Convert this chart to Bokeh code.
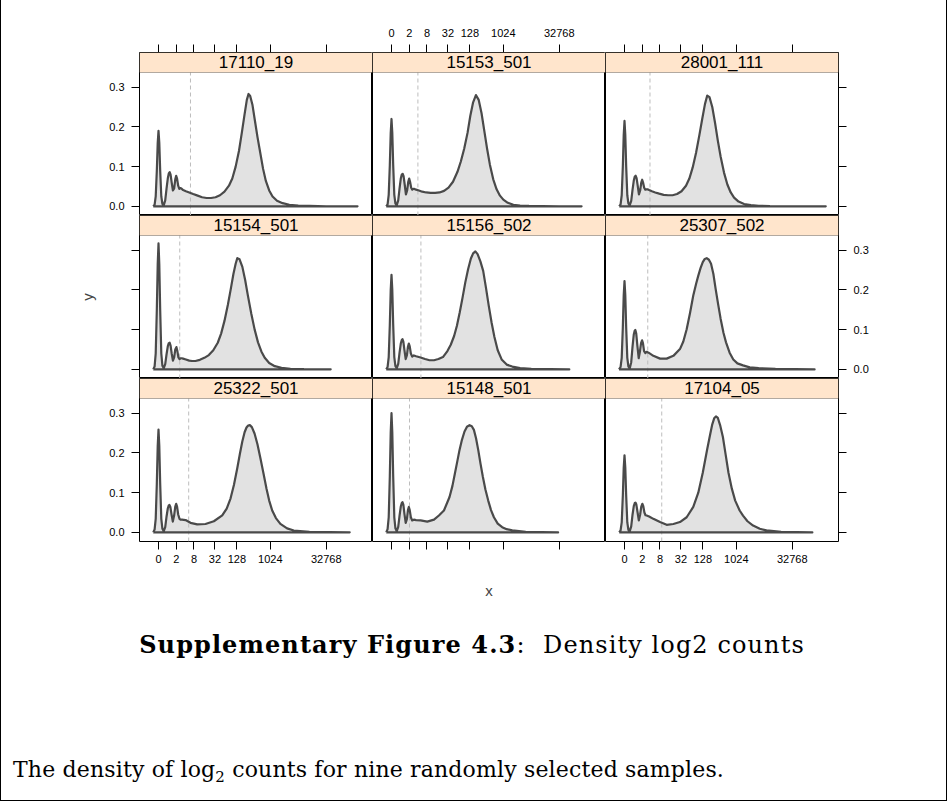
import numpy as np
from bokeh.plotting import figure
from bokeh.models import Range1d, FixedTicker, LinearAxis, BoxAnnotation, Label, Div, InlineStyleSheet
from bokeh.layouts import row, column
from bokeh.embed import file_html
from bokeh.resources import INLINE

# ---------------- data (x = log2(count + 1), y = density) ----------------
SAMPLES = ["17110_19", "15153_501", "28001_111",
           "15154_501", "15156_502", "25307_502",
           "25322_501", "15148_501", "17104_05"]

X_TICK_COUNTS = [0, 2, 8, 32, 128, 1024, 32768]
Y_TICKS = [0.0, 0.1, 0.2, 0.3]

# dashed threshold line per sample (log2 units)
THRESHOLDS = [2.86, 2.36, 2.28, 1.9, 2.63, 2.08, 2.7, 1.61, 3.33]

X_17110_19 = [-0.47, -0.35, -0.25, -0.15, -0.07, 0, 0.07, 0.15, 0.25, 0.35, 0.47, 0.6, 0.72, 0.83, 0.92, 1.0, 1.08,
              1.18, 1.29, 1.4, 1.5, 1.58, 1.66, 1.76, 1.86, 1.96, 2.05, 2.2, 2.45, 2.75, 3.1, 3.5, 3.9, 4.3, 4.7,
              5.1, 5.5, 5.9, 6.3, 6.6, 6.9, 7.2, 7.45, 7.7, 7.9, 8.05, 8.2, 8.4, 8.6, 8.85, 9.1, 9.35, 9.6, 9.9,
              10.2, 10.6, 11.1, 11.7, 12.5, 13.5, 15.0, 17.8]
Y_17110_19 = [0, 0.004, 0.025, 0.09, 0.16, 0.19, 0.16, 0.09, 0.025, 0.006, 0.003, 0.015, 0.045, 0.07, 0.083, 0.086,
              0.08, 0.06, 0.04, 0.045, 0.068, 0.077, 0.07, 0.052, 0.044, 0.046, 0.045, 0.041, 0.038, 0.035, 0.031,
              0.027, 0.023, 0.021, 0.021, 0.023, 0.028, 0.037, 0.052, 0.07, 0.1, 0.14, 0.185, 0.232, 0.268, 0.283,
              0.278, 0.256, 0.22, 0.175, 0.135, 0.095, 0.064, 0.04, 0.025, 0.014, 0.008, 0.004, 0.002, 0.001,
              0.0003, 0]

X_15153_501 = [-0.47, -0.35, -0.25, -0.15, -0.07, 0, 0.07, 0.15, 0.25, 0.35, 0.47, 0.6, 0.72, 0.83, 0.92, 1.0, 1.08,
               1.18, 1.29, 1.4, 1.5, 1.58, 1.66, 1.76, 1.86, 1.96, 2.05, 2.2, 2.45, 2.75, 3.1, 3.5, 3.9, 4.3, 4.7,
               5.1, 5.5, 5.9, 6.2, 6.5, 6.8, 7.05, 7.3, 7.55, 7.8, 8.05, 8.3, 8.55, 8.8, 9.1, 9.4, 9.7, 10.0, 10.4,
               10.9, 11.5, 12.3, 13.5, 15.0, 17.0]
Y_15153_501 = [0, 0.005, 0.029, 0.104, 0.185, 0.22, 0.185, 0.104, 0.029, 0.007, 0.003, 0.015, 0.045, 0.07, 0.08,
               0.082, 0.076, 0.055, 0.03, 0.04, 0.062, 0.07, 0.062, 0.047, 0.042, 0.044, 0.044, 0.042, 0.04, 0.037,
               0.035, 0.034, 0.034, 0.035, 0.039, 0.047, 0.062, 0.087, 0.113, 0.145, 0.185, 0.228, 0.262, 0.28,
               0.268, 0.235, 0.19, 0.145, 0.105, 0.068, 0.043, 0.027, 0.017, 0.009, 0.004, 0.002, 0.001, 0.0004,
               0.0001, 0]

X_28001_111 = [-0.47, -0.35, -0.25, -0.15, -0.07, 0, 0.07, 0.15, 0.25, 0.35, 0.47, 0.6, 0.72, 0.83, 0.92, 1.0, 1.08,
               1.18, 1.29, 1.4, 1.5, 1.58, 1.66, 1.76, 1.86, 1.96, 2.05, 2.2, 2.45, 2.75, 3.1, 3.5, 3.9, 4.3, 4.7,
               5.1, 5.5, 5.8, 6.1, 6.4, 6.7, 6.95, 7.2, 7.4, 7.6, 7.85, 8.1, 8.35, 8.6, 8.9, 9.2, 9.5, 9.8, 10.2,
               10.7, 11.3, 12.0, 13.0, 14.5, 18.0]
Y_28001_111 = [0, 0.005, 0.028, 0.1, 0.18, 0.215, 0.18, 0.1, 0.028, 0.007, 0.003, 0.014, 0.042, 0.065, 0.075, 0.077,
               0.071, 0.052, 0.03, 0.04, 0.06, 0.067, 0.06, 0.047, 0.042, 0.043, 0.043, 0.041, 0.038, 0.035, 0.032,
               0.029, 0.028, 0.028, 0.031, 0.038, 0.052, 0.07, 0.098, 0.135, 0.18, 0.22, 0.258, 0.279, 0.275, 0.25,
               0.21, 0.165, 0.125, 0.085, 0.055, 0.035, 0.022, 0.012, 0.006, 0.003, 0.0015, 0.0005, 0.0002, 0]

X_15154_501 = [-0.47, -0.35, -0.25, -0.15, -0.07, 0, 0.07, 0.15, 0.25, 0.35, 0.47, 0.6, 0.72, 0.83, 0.92, 1.0, 1.08,
               1.18, 1.29, 1.4, 1.5, 1.6, 1.68, 1.78, 1.88, 1.98, 2.07, 2.2, 2.45, 2.75, 3.0, 3.3, 3.7, 4.1, 4.5,
               4.9, 5.3, 5.6, 5.9, 6.2, 6.45, 6.7, 6.9, 7.05, 7.25, 7.5, 7.75, 8.0, 8.3, 8.6, 8.9, 9.2, 9.5, 9.9,
               10.4, 11.0, 11.8, 13.0, 15.4]
Y_15154_501 = [0, 0.007, 0.04, 0.15, 0.265, 0.317, 0.265, 0.15, 0.04, 0.009, 0.003, 0.013, 0.038, 0.058, 0.066,
               0.067, 0.06, 0.04, 0.022, 0.03, 0.05, 0.056, 0.047, 0.03, 0.026, 0.028, 0.028, 0.027, 0.025, 0.022,
               0.021, 0.021, 0.024, 0.029, 0.036, 0.048, 0.067, 0.09, 0.122, 0.162, 0.2, 0.24, 0.266, 0.28, 0.277,
               0.258, 0.225, 0.185, 0.14, 0.1, 0.068, 0.045, 0.029, 0.016, 0.008, 0.004, 0.0015, 0.0005, 0]

X_15156_502 = [-0.47, -0.35, -0.25, -0.15, -0.07, 0, 0.07, 0.15, 0.25, 0.35, 0.47, 0.6, 0.72, 0.83, 0.92, 0.98, 1.06,
               1.16, 1.27, 1.38, 1.47, 1.55, 1.63, 1.73, 1.85, 2.0, 2.2, 2.6, 3.0, 3.4, 3.8, 4.2, 4.6, 5.0, 5.3,
               5.6, 5.85, 6.1, 6.35, 6.6, 6.85, 7.1, 7.3, 7.5, 7.7, 7.95, 8.2, 8.45, 8.7, 8.95, 9.2, 9.5, 9.85, 10.3,
               10.8, 11.5, 12.5, 15.9]
Y_15156_502 = [0, 0.006, 0.031, 0.113, 0.2, 0.238, 0.2, 0.113, 0.031, 0.008, 0.003, 0.014, 0.042, 0.065, 0.074,
               0.076, 0.07, 0.048, 0.026, 0.036, 0.057, 0.065, 0.058, 0.04, 0.032, 0.035, 0.033, 0.03, 0.026, 0.023,
               0.023, 0.026, 0.031, 0.046, 0.062, 0.084, 0.11, 0.143, 0.18, 0.219, 0.252, 0.279, 0.292, 0.297,
               0.29, 0.272, 0.248, 0.205, 0.16, 0.118, 0.082, 0.048, 0.025, 0.012, 0.007, 0.003, 0.001, 0]

X_25307_502 = [-0.49, -0.35, -0.25, -0.15, -0.07, 0, 0.07, 0.15, 0.25, 0.35, 0.47, 0.6, 0.72, 0.83, 0.91, 0.97, 1.05,
               1.15, 1.27, 1.38, 1.48, 1.57, 1.65, 1.75, 1.87, 1.98, 2.15, 2.58, 3.18, 3.77, 4.37, 4.96, 5.26, 5.56,
               5.86, 6.15, 6.4, 6.6, 6.8, 7.0, 7.18, 7.35, 7.55, 7.74, 7.95, 8.15, 8.38, 8.6, 8.85, 9.08, 9.4, 9.73,
               10.1, 10.6, 11.2, 12.0, 13.5, 17.0]
Y_25307_502 = [0, 0.006, 0.029, 0.105, 0.187, 0.222, 0.187, 0.105, 0.029, 0.007, 0.003, 0.018, 0.058, 0.088, 0.097,
               0.099, 0.09, 0.06, 0.028, 0.045, 0.066, 0.073, 0.066, 0.046, 0.041, 0.044, 0.042, 0.034, 0.027,
               0.027, 0.034, 0.051, 0.07, 0.101, 0.142, 0.186, 0.215, 0.236, 0.255, 0.27, 0.278, 0.28, 0.276,
               0.266, 0.24, 0.2025, 0.163, 0.127, 0.092, 0.068, 0.042, 0.025, 0.015, 0.01, 0.005, 0.003, 0.001, 0]

X_25322_501 = [-0.47, -0.35, -0.25, -0.15, -0.07, 0, 0.07, 0.15, 0.25, 0.35, 0.47, 0.6, 0.72, 0.83, 0.92, 0.98, 1.06,
               1.16, 1.28, 1.4, 1.5, 1.58, 1.66, 1.76, 1.88, 1.97, 2.1, 2.42, 2.86, 3.46, 4.2, 4.95, 5.7, 6.1, 6.44,
               6.75, 7.04, 7.28, 7.49, 7.7, 7.87, 8.02, 8.17, 8.35, 8.59, 8.85, 9.12, 9.4, 9.66, 9.9, 10.17, 10.5,
               10.9, 11.5, 12.1, 13.5, 17.1]
Y_25322_501 = [0, 0.007, 0.034, 0.123, 0.218, 0.259, 0.218, 0.123, 0.034, 0.009, 0.003, 0.013, 0.04, 0.06, 0.068,
               0.069, 0.064, 0.046, 0.027, 0.043, 0.065, 0.072, 0.065, 0.045, 0.034, 0.032, 0.032, 0.031, 0.024,
               0.02, 0.021, 0.028, 0.043, 0.06, 0.085, 0.12, 0.161, 0.198, 0.228, 0.252, 0.264, 0.269, 0.27, 0.265,
               0.249, 0.222, 0.186, 0.147, 0.11, 0.08, 0.055, 0.036, 0.0215, 0.01, 0.0046, 0.001, 0]

X_15148_501 = [-0.47, -0.35, -0.25, -0.15, -0.07, 0, 0.07, 0.15, 0.25, 0.35, 0.47, 0.6, 0.72, 0.83, 0.92, 0.98, 1.06,
               1.16, 1.27, 1.38, 1.47, 1.55, 1.63, 1.73, 1.85, 2.0, 2.2, 2.6, 3.2, 3.8, 4.24, 4.69, 5.19, 5.45, 5.67,
               5.88, 6.08, 6.3, 6.53, 6.75, 6.98, 7.18, 7.37, 7.56, 7.76, 7.96, 8.17, 8.4, 8.65, 8.9, 9.16, 9.5, 9.9,
               10.3, 10.8, 12.0, 14.9]
Y_15148_501 = [0, 0.008, 0.038, 0.142, 0.252, 0.30, 0.252, 0.142, 0.038, 0.01, 0.003, 0.014, 0.042, 0.065, 0.074,
               0.076, 0.07, 0.046, 0.024, 0.034, 0.056, 0.064, 0.056, 0.038, 0.03, 0.032, 0.031, 0.03, 0.027, 0.032,
               0.0425, 0.055, 0.089, 0.117, 0.148, 0.178, 0.207, 0.233, 0.254, 0.266, 0.27, 0.267, 0.258, 0.237,
               0.207, 0.173, 0.14, 0.108, 0.08, 0.056, 0.038, 0.022, 0.013, 0.008, 0.005, 0.001, 0]

X_17104_05 = [-0.47, -0.35, -0.25, -0.15, -0.07, 0, 0.07, 0.15, 0.25, 0.35, 0.47, 0.6, 0.72, 0.83, 0.92, 0.98, 1.06,
              1.16, 1.28, 1.4, 1.5, 1.6, 1.68, 1.78, 1.88, 1.98, 2.2, 2.58, 3.18, 3.77, 4.37, 4.96, 5.56, 6.15, 6.6,
              7.0, 7.4, 7.65, 7.85, 8.02, 8.18, 8.35, 8.55, 8.8, 9.05, 9.3, 9.6, 9.9, 10.3, 10.6, 11.0, 11.5, 12.1,
              12.7, 14.0, 16.8]
Y_17104_05 = [0, 0.005, 0.025, 0.092, 0.163, 0.194, 0.163, 0.092, 0.025, 0.006, 0.003, 0.015, 0.045, 0.066, 0.074,
              0.075, 0.07, 0.052, 0.03, 0.045, 0.065, 0.072, 0.066, 0.05, 0.043, 0.0425, 0.04, 0.034, 0.026, 0.019,
              0.021, 0.026, 0.038, 0.064, 0.1, 0.15, 0.21, 0.245, 0.272, 0.287, 0.292, 0.288, 0.27, 0.24, 0.195,
              0.15, 0.11, 0.08, 0.055, 0.042, 0.028, 0.017, 0.009, 0.005, 0.001, 0]

CURVES_X = [X_17110_19, X_15153_501, X_28001_111, X_15154_501, X_15156_502, X_25307_502,
            X_25322_501, X_15148_501, X_17104_05]
CURVES_Y = [Y_17110_19, Y_15153_501, Y_28001_111, Y_15154_501, Y_15156_502, Y_25307_502,
            Y_25322_501, Y_15148_501, Y_17104_05]

# ---------------- styling / layout ----------------
X_LIM = (-1.70, 19.14)
Y_LIM = (-0.023, 0.337)
FRAME_W, FRAME_H, STRIP_H = 233, 163, 20
LEFT_B, RIGHT_B, TOP_B, BOTTOM_B = 139, 110, 52, 60
Y_TOP = Y_LIM[1] + (Y_LIM[1] - Y_LIM[0]) * STRIP_H / (FRAME_H - STRIP_H)

STRIP_COLOR = "#ffe5cc"
FILL_COLOR = "#e2e2e2"
LINE_COLOR = "#4a4a4a"
DASH_COLOR = "#bdbdbd"
FONT = "Liberation Sans"

X_TICKS = [float(np.log2(v + 1)) for v in X_TICK_COUNTS]


def style_axis(ax, show_labels, labels):
    ax.axis_line_color = None
    ax.major_tick_line_color = "black"
    ax.major_tick_out = 8
    ax.major_tick_in = 0
    ax.minor_tick_line_color = None
    ax.major_label_text_font = FONT
    ax.major_label_text_font_size = "11px"
    ax.major_label_text_color = "black"
    ax.major_label_standoff = 5
    ax.major_label_overrides = {t: (lab if show_labels else "") for t, lab in labels}


def make_panel(i):
    r, c = divmod(i, 3)
    p = figure(frame_width=FRAME_W, frame_height=FRAME_H,
               x_range=Range1d(*X_LIM), y_range=Range1d(Y_LIM[0], Y_TOP),
               output_backend="svg", toolbar_location=None,
               x_axis_location=None, y_axis_location=None,
               min_border_left=LEFT_B if c == 0 else 0,
               min_border_right=RIGHT_B if c == 2 else 0,
               min_border_top=TOP_B if r == 0 else 0,
               min_border_bottom=BOTTOM_B if r == 2 else 0)
    p.grid.grid_line_color = None
    p.outline_line_color = "black"
    p.outline_line_width = 1
    p.background_fill_color = "white"
    p.border_fill_color = "white"

    xs, ys = CURVES_X[i], CURVES_Y[i]
    p.patch(x=xs, y=ys, fill_color=FILL_COLOR, line_color=None)
    p.segment(x0=[THRESHOLDS[i]], y0=[Y_LIM[0]], x1=[THRESHOLDS[i]], y1=[Y_LIM[1]],
              line_color=DASH_COLOR, line_dash="4 3", line_width=1)
    p.line(x=list(xs) + [xs[0]], y=list(ys) + [ys[0]], line_color=LINE_COLOR, line_width=2.2,
           line_join="round")

    xlabels = [(t, str(v)) for t, v in zip(X_TICKS, X_TICK_COUNTS)]
    ylabels = [(t, f"{t:.1f}") for t in Y_TICKS]

    if r == 0:
        ax = LinearAxis(ticker=FixedTicker(ticks=X_TICKS))
        style_axis(ax, c == 1, xlabels)
        ax.major_label_standoff = 8
        p.add_layout(ax, "above")
    if r == 2:
        ax = LinearAxis(ticker=FixedTicker(ticks=X_TICKS))
        style_axis(ax, c != 1, xlabels)
        if c == 1:
            ax.axis_label = "x"
            ax.axis_label_text_font = FONT
            ax.axis_label_text_font_style = "normal"
            ax.axis_label_text_font_size = "15px"
            ax.axis_label_standoff = 32
        p.add_layout(ax, "below")
    if c == 0:
        ay = LinearAxis(ticker=FixedTicker(ticks=Y_TICKS))
        style_axis(ay, r != 1, ylabels)
        ay.major_label_standoff = 7
        if r == 1:
            ay.axis_label = "y"
            ay.axis_label_text_font = FONT
            ay.axis_label_text_font_style = "normal"
            ay.axis_label_text_font_size = "15px"
            ay.axis_label_standoff = 36
        p.add_layout(ay, "left")
    if c == 2:
        ay = LinearAxis(ticker=FixedTicker(ticks=Y_TICKS))
        style_axis(ay, r == 1, ylabels)
        ay.major_label_standoff = 7
        p.add_layout(ay, "right")

    strip = BoxAnnotation(bottom=Y_LIM[1], top=Y_TOP, fill_color=STRIP_COLOR, fill_alpha=1.0,
                          line_color="black", line_width=1)
    p.add_layout(strip)
    lab = Label(x=(X_LIM[0] + X_LIM[1]) / 2, y=(Y_LIM[1] + Y_TOP) / 2, text=SAMPLES[i],
                text_align="center", text_baseline="middle", text_font=FONT,
                text_font_size="17px", text_color="black")
    p.add_layout(lab)
    return p


panels = [make_panel(i) for i in range(9)]
grid = column(row(*panels[0:3]), row(*panels[3:6]), row(*panels[6:9]))

SERIF = "'DejaVu Serif', serif"
CAPTION = ('<div style="width:934px; text-align:center; font-family:' + SERIF + '; '
           'font-size:24px; letter-spacing:1.1px; color:black; margin-top:22px;">'
           '<b>Supplementary Figure 4.3</b>:&nbsp; Density log2 counts</div>'
           '<div style="font-family:' + SERIF + '; font-size:22px; letter-spacing:0.16px; '
           'color:black; margin-top:92px; margin-left:8px;">'
           'The density of log<sub style="font-size:15px;">2</sub> counts for nine randomly selected samples.</div>')
caption = Div(text=CAPTION, width=948, height=201)

frame_css = InlineStyleSheet(css=(
    ":host { position: relative; }"
    ":host::after { content: ''; position: absolute; left: 0; top: 0; width: 947px; height: 801px;"
    " box-sizing: border-box;"
    " border-left: 1px solid #000; border-right: 1px solid #000; border-bottom: 1px solid #000;"
    " pointer-events: none; z-index: 100; }"))

page = column(grid, caption, stylesheets=[frame_css])

open("out.html", "w").write(file_html(page, INLINE))
